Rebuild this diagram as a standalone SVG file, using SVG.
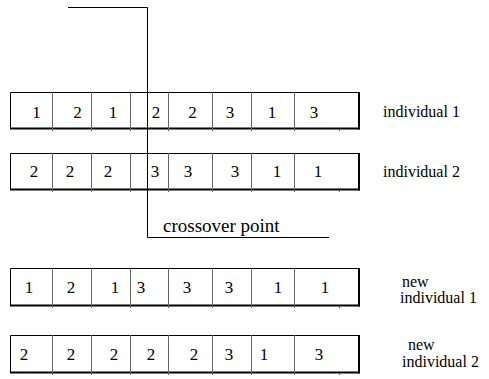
<svg xmlns="http://www.w3.org/2000/svg" width="489" height="379" viewBox="0 0 489 379" font-family="'Liberation Serif', 'DejaVu Serif', 'Times New Roman', serif">
  <style>
    .frame { fill: none; stroke: #000; stroke-width: 1; }
    .edge { stroke: #000; stroke-width: 2; }
    .div { stroke: #666; stroke-width: 1; }
    .cut { fill: none; stroke: #000; stroke-width: 1; }
    text { font-family: 'Liberation Serif', 'DejaVu Serif', 'Times New Roman', serif; font-size: 16px; fill: #000; }
    .gene { text-anchor: middle; font-size: 17px; }
    .note { font-size: 19px; }
  </style>

  <!-- chromosome row 1 -->
  <g id="individual1">
    <path class="frame" d="M10.5,128 V92.5 H359"/>
    <line class="edge" x1="10" y1="128.5" x2="360" y2="128.5"/>
    <line class="edge" x1="359" y1="92" x2="359" y2="129.5"/>
    <path class="div" d="M52.5,92 V131 M91.5,92 V131 M130.5,92 V131 M168.5,92 V131 M212.5,92 V131 M251.5,92 V131 M294.5,92 V131 M339.5,129 V131"/>
    <text class="gene" x="36.5" y="118">1</text>
    <text class="gene" x="77.5" y="118">2</text>
    <text class="gene" x="113" y="118">1</text>
    <text class="gene" x="156" y="118">2</text>
    <text class="gene" x="192.5" y="118">2</text>
    <text class="gene" x="230" y="118">3</text>
    <text class="gene" x="272" y="118">1</text>
    <text class="gene" x="314" y="118">3</text>
    <text x="383" y="117">individual 1</text>
  </g>

  <!-- chromosome row 2 -->
  <g id="individual2">
    <path class="frame" d="M10.5,189 V153.5 H359"/>
    <line class="edge" x1="10" y1="189.5" x2="360" y2="189.5"/>
    <line class="edge" x1="359" y1="153" x2="359" y2="190.5"/>
    <path class="div" d="M52.5,153 V192 M91.5,153 V192 M130.5,153 V192 M168.5,153 V192 M212.5,153 V192 M251.5,153 V192 M294.5,153 V192 M339.5,190 V192"/>
    <text class="gene" x="34" y="177">2</text>
    <text class="gene" x="70" y="177">2</text>
    <text class="gene" x="108" y="177">2</text>
    <text class="gene" x="155" y="177">3</text>
    <text class="gene" x="188" y="177">3</text>
    <text class="gene" x="235" y="177">3</text>
    <text class="gene" x="277" y="177">1</text>
    <text class="gene" x="318" y="177">1</text>
    <text x="383" y="177">individual 2</text>
  </g>

  <!-- offspring row 1 -->
  <g id="newIndividual1">
    <path class="frame" d="M10.5,305 V268.5 H359"/>
    <line class="edge" x1="10" y1="305.5" x2="360" y2="305.5"/>
    <line class="edge" x1="359" y1="268" x2="359" y2="306.5"/>
    <path class="div" d="M52.5,268 V308 M91.5,268 V308 M130.5,268 V308 M168.5,268 V308 M212.5,268 V308 M251.5,268 V308 M294.5,268 V308 M339.5,306 V308"/>
    <text class="gene" x="29" y="293">1</text>
    <text class="gene" x="71" y="293">2</text>
    <text class="gene" x="115" y="293">1</text>
    <text class="gene" x="141" y="293">3</text>
    <text class="gene" x="187" y="293">3</text>
    <text class="gene" x="229" y="293">3</text>
    <text class="gene" x="278" y="293">1</text>
    <text class="gene" x="325" y="293">1</text>
    <text x="402" y="287">new</text>
    <text x="400" y="303">individual 1</text>
  </g>

  <!-- offspring row 2 -->
  <g id="newIndividual2">
    <path class="frame" d="M10.5,372 V335.5 H359"/>
    <line class="edge" x1="10" y1="372.5" x2="360" y2="372.5"/>
    <line class="edge" x1="359" y1="335" x2="359" y2="373.5"/>
    <path class="div" d="M52.5,335 V375 M91.5,335 V375 M130.5,335 V375 M168.5,335 V375 M212.5,335 V375 M251.5,335 V375 M294.5,335 V375 M339.5,373 V375"/>
    <text class="gene" x="24" y="360">2</text>
    <text class="gene" x="71" y="360">2</text>
    <text class="gene" x="114" y="360">2</text>
    <text class="gene" x="151" y="360">2</text>
    <text class="gene" x="194" y="360">2</text>
    <text class="gene" x="229" y="360">3</text>
    <text class="gene" x="264" y="360">1</text>
    <text class="gene" x="319" y="360">3</text>
    <text x="408" y="350">new</text>
    <text x="402" y="367">individual 2</text>
  </g>

  <!-- crossover marker line -->
  <g id="connectors">
    <path class="cut" d="M68,7.5 H147.5 V237.5 H329"/>
  </g>
  <g id="crossoverLabel">
    <text class="note" x="163" y="232">crossover point</text>
  </g>
</svg>
